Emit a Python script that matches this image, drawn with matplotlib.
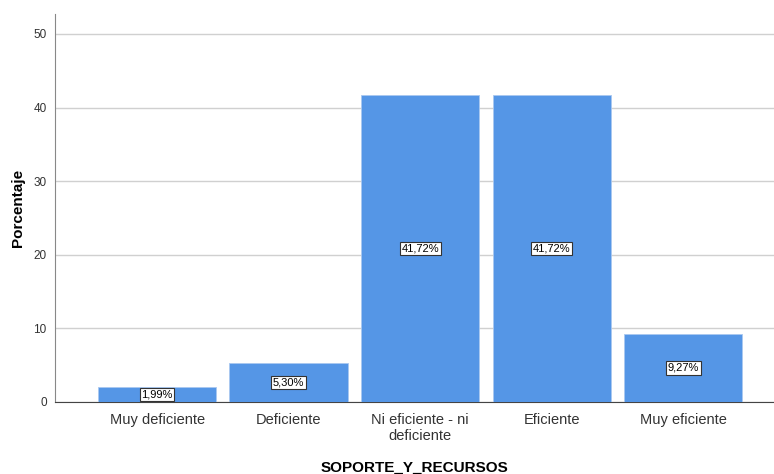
import matplotlib.pyplot as plt

plt.rcParams['font.family'] = ['Liberation Sans', 'DejaVu Sans']

categorias = ['Muy deficiente', 'Deficiente', 'Ni eficiente - ni\ndeficiente',
              'Eficiente', 'Muy eficiente']
porcentajes = [1.99, 5.30, 41.72, 41.72, 9.27]
etiquetas = ['1,99%', '5,30%', '41,72%', '41,72%', '9,27%']
yticks = [0, 10, 20, 30, 40, 50]

fig = plt.figure(figsize=(7.74, 4.74), dpi=100)
ax = fig.add_axes([55 / 774, 72 / 474, 719 / 774, 388 / 474])

x = range(len(categorias))
bars = ax.bar(x, porcentajes, width=0.9, color='#5596e6',
              edgecolor='#a9c8f0', linewidth=0.6, zorder=3)

for b, txt in zip(bars, etiquetas):
    ax.text(b.get_x() + b.get_width() / 2, b.get_height() / 2, txt,
            ha='center', va='center', fontsize=8, zorder=4,
            bbox=dict(boxstyle='square,pad=0.15', fc='white', ec='#333333', lw=0.8))

ax.set_xlim(-0.776, 4.69)
ax.set_ylim(0, 52.7)
ax.set_yticks(yticks)
ax.set_xticks(list(x))
ax.set_xticklabels(categorias, fontsize=10.5, color='#333333', linespacing=1.15)
ax.tick_params(axis='y', length=0, labelsize=8.5, labelcolor='#333333', pad=6)
ax.tick_params(axis='x', length=0, pad=8)
ax.yaxis.grid(True, color='#d0d0d0', linewidth=1, zorder=0)

for s in ['top', 'right']:
    ax.spines[s].set_visible(False)
ax.spines['left'].set_color('#888888')
ax.spines['bottom'].set_color('#444444')

ax.set_ylabel('Porcentaje', fontsize=11, fontweight='bold', labelpad=6)
ax.set_xlabel('SOPORTE_Y_RECURSOS', fontsize=11, fontweight='bold', labelpad=13)

fig.savefig('out.png', dpi=100)
